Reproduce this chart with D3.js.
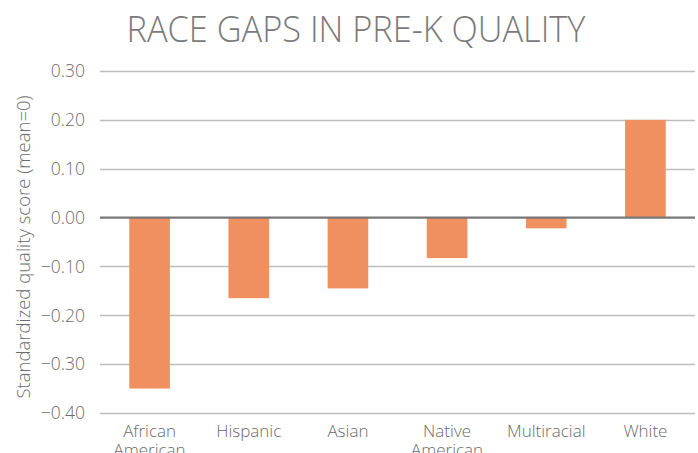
<!DOCTYPE html>
<html>
<head>
<meta charset="utf-8">
<script src="https://cdn.jsdelivr.net/npm/d3@7"></script>
<style>
  html, body { margin: 0; padding: 0; background: #fff; }
  svg { display: block; }
</style>
</head>
<body>
<svg id="chart" width="698" height="453"></svg>
<script>
const titleText = "RACE GAPS IN PRE-K QUALITY";
const yAxisLabel = "Standardized quality score (mean=0)";
const categories = [["African", "American"], ["Hispanic"], ["Asian"], ["Native", "American"], ["Multiracial"], ["White"]];
const values = [-0.35, -0.165, -0.145, -0.083, -0.022, 0.20];
const yTicks = [0.30, 0.20, 0.10, 0.00, -0.10, -0.20, -0.30, -0.40];

(function () {
const svg = d3.select("#chart");
const font = "'Open Sans', 'Noto Sans', sans-serif";
const textColor = "#6b6b6b";
const pl = 100, pr = 695, pt = 71, pb = 413;

const keys = categories.map(c => c.join(" "));
const x = d3.scaleBand().domain(keys).range([pl, pr]).paddingInner(0.59).paddingOuter(0.295);
const y = d3.scaleLinear().domain([-0.40, 0.30]).range([pb, pt]);

// gridlines
svg.append("g").selectAll("line").data(yTicks.filter(t => t !== 0)).join("line")
  .attr("x1", pl).attr("x2", pr)
  .attr("y1", d => Math.round(y(d)) + 0.5).attr("y2", d => Math.round(y(d)) + 0.5)
  .attr("stroke", "#bdbdbd").attr("stroke-width", 1.3);

// tick labels
svg.append("g").selectAll("text").data(yTicks).join("text")
  .attr("x", 85).attr("y", d => y(d)).attr("dy", "0.36em")
  .attr("text-anchor", "end")
  .attr("font-family", font).attr("font-size", 17.5).attr("font-weight", 300)
  .attr("fill", textColor)
  .text(d => d3.format(".2f")(d));

// bars
svg.append("g").selectAll("rect").data(values).join("rect")
  .attr("x", (d, i) => x(keys[i]))
  .attr("width", x.bandwidth())
  .attr("y", d => y(Math.max(0, d)))
  .attr("height", d => Math.abs(y(d) - y(0)))
  .attr("fill", "#f09060");

// zero line
svg.append("line")
  .attr("x1", pl).attr("x2", pr)
  .attr("y1", y(0)).attr("y2", y(0))
  .attr("stroke", "#777").attr("stroke-width", 2.2);

// x labels
const xl = svg.append("g").selectAll("text").data(categories).join("text")
  .attr("x", (d, i) => x(keys[i]) + x.bandwidth() / 2)
  .attr("y", 437)
  .attr("text-anchor", "middle")
  .attr("font-family", font).attr("font-size", 17).attr("font-weight", 300)
  .attr("fill", textColor);
xl.selectAll("tspan").data(d => d).join("tspan")
  .attr("x", function() { return d3.select(this.parentNode).attr("x"); })
  .attr("dy", (d, i) => i === 0 ? 0 : 19)
  .text(d => d);

// y axis title
svg.append("text")
  .attr("transform", "translate(30," + 247 + ") rotate(-90)")
  .attr("text-anchor", "middle")
  .attr("font-family", font).attr("font-size", 18.5).attr("font-weight", 300)
  .attr("fill", textColor)
  .text(yAxisLabel);

// title
svg.append("text")
  .attr("x", 356).attr("y", 42)
  .attr("text-anchor", "middle")
  .attr("font-family", font).attr("font-size", 36).attr("font-weight", 300)
  .attr("textLength", 459).attr("lengthAdjust", "spacingAndGlyphs")
  .attr("fill", "#7a7a7a")
  .text(titleText);
})();
</script>
</body>
</html>
